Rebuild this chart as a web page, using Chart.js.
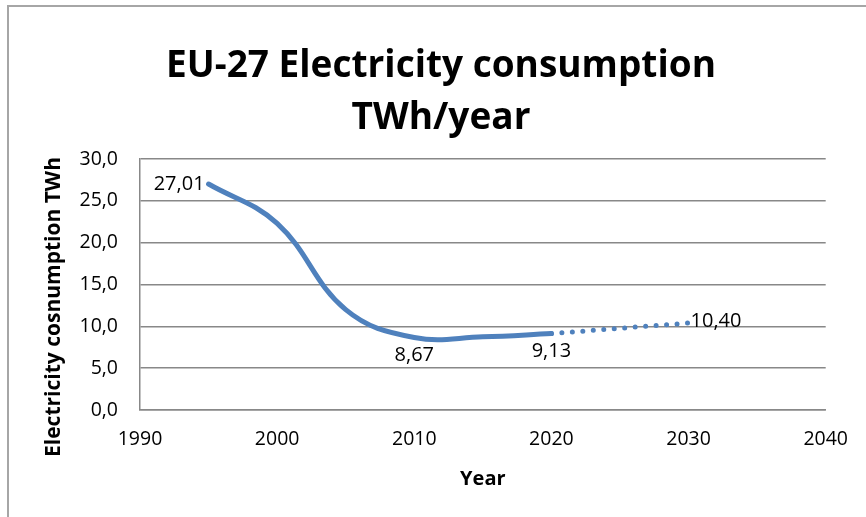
<!DOCTYPE html>
<html lang="en">
<head>
  <meta charset="UTF-8" />
  <title>EU-27 Electricity consumption</title>
  <style>
    body {
      margin: 0;
      background: #ffffff;
    }
    #wrap {
      position: relative;
      width: 866px;
      height: 517px;
      overflow: hidden;
    }
    #frame {
      position: absolute;
      left: 7px;
      top: 5px;
      width: 900px;
      height: 600px;
      border-left: 2px solid #a6a6a6;
      border-top: 2px solid #a6a6a6;
    }
    canvas {
      position: absolute;
      left: 0;
      top: 0;
    }
  </style>
</head>
<body>
  <div id="wrap">
    <div id="frame"></div>
    <canvas id="chart" width="866" height="517"></canvas>
  </div>

  <script src="https://cdn.jsdelivr.net/npm/chart.js"></script>
  <script>
    // measured series (solid) and projection (dotted)
    const years = [1995, 2000, 2005, 2010, 2015, 2020];
    const consumption = [27.01, 22.3, 12.0, 8.67, 8.75, 9.13];
    const projYears = [2020, 2030];
    const projValues = [9.13, 10.40];
    const xTicks = [1990, 2000, 2010, 2020, 2030, 2040];
    const yTicks = [0, 5, 10, 15, 20, 25, 30];

    const titleLines = ['EU-27 Electricity consumption', 'TWh/year'];
    const yTitle = 'Electricity cosnumption TWh';

    const blue = '#4f81bd';
    const grey = '#888888';
    const font = "'Open Sans', sans-serif";

    const comma = (v, d) => v.toFixed(d).replace('.', ',');

    // which points carry a value label, and where
    const labelled = [
      { ds: 0, i: 0, where: 'left' },
      { ds: 0, i: 3, where: 'below' },
      { ds: 0, i: 5, where: 'below' },
      { ds: 1, i: 1, where: 'right' }
    ];

    const valueLabels = {
      id: 'valueLabels',
      afterDatasetsDraw(chart) {
        const ctx = chart.ctx;
        ctx.save();
        ctx.font = '20px ' + font;
        ctx.fillStyle = '#000';
        labelled.forEach(l => {
          const pt = chart.getDatasetMeta(l.ds).data[l.i];
          const v = chart.data.datasets[l.ds].data[l.i].y;
          const txt = comma(v, 2);
          if (l.where === 'left') {
            ctx.textAlign = 'right'; ctx.textBaseline = 'middle';
            ctx.fillText(txt, pt.x - 4, pt.y);
          } else if (l.where === 'right') {
            ctx.textAlign = 'left'; ctx.textBaseline = 'middle';
            ctx.fillText(txt, pt.x + 2, pt.y - 2);
          } else {
            ctx.textAlign = 'center'; ctx.textBaseline = 'middle';
            ctx.fillText(txt, pt.x, pt.y + 18);
          }
        });
        ctx.restore();
      }
    };

    // chart title and the y-axis title, placed like the Excel original
    const headings = {
      id: 'headings',
      afterDraw(chart) {
        const ctx = chart.ctx;
        ctx.save();
        ctx.fillStyle = '#000';
        ctx.textAlign = 'center';
        ctx.textBaseline = 'alphabetic';
        ctx.font = 'bold 37px ' + font;
        ctx.fillText(titleLines[0], 441, 77);
        ctx.fillText(titleLines[1], 441, 129);

        ctx.font = 'bold 21px ' + font;
        ctx.textBaseline = 'middle';
        ctx.translate(54, 307);
        ctx.rotate(-Math.PI / 2);
        ctx.fillText(yTitle, 0, 0);
        ctx.restore();
      }
    };

    new Chart(document.getElementById('chart'), {
      type: 'line',
      data: {
        datasets: [
          {
            data: years.map((y, i) => ({ x: y, y: consumption[i] })),
            borderColor: blue,
            borderWidth: 5,
            tension: 0.4,
            pointRadius: 0,
            borderCapStyle: 'round'
          },
          {
            data: projYears.map((y, i) => ({ x: y, y: projValues[i] })),
            borderColor: blue,
            borderWidth: 5,
            borderDash: [0, 10.5],
            borderCapStyle: 'round',
            pointRadius: 0
          }
        ]
      },
      options: {
        responsive: false,
        animation: false,
        layout: { padding: { left: 0, right: 37, top: 159, bottom: 0 } },
        plugins: {
          legend: { display: false },
          tooltip: { enabled: false },
          title: { display: false }
        },
        scales: {
          x: {
            type: 'linear',
            min: xTicks[0],
            max: xTicks[xTicks.length - 1],
            afterBuildTicks: s => { s.ticks = xTicks.map(v => ({ value: v })); },
            afterFit: s => { s.height = 107; },
            grid: { display: false, drawTicks: false },
            border: { color: grey, width: 1.5 },
            ticks: {
              color: '#000',
              padding: 18,
              font: { family: font, size: 19.5 },
              callback: v => String(v)
            },
            title: {
              display: true,
              text: 'Year',
              color: '#000',
              font: { family: font, size: 20, weight: 'bold' },
              padding: { top: 0, bottom: 26 }
            }
          },
          y: {
            min: yTicks[0],
            max: yTicks[yTicks.length - 1],
            afterBuildTicks: s => { s.ticks = yTicks.map(v => ({ value: v })); },
            afterFit: s => { s.width = 140; },
            grid: { color: grey, lineWidth: 1.5, drawTicks: false },
            border: { color: grey, width: 1.5 },
            ticks: {
              color: '#000',
              padding: 22,
              font: { family: font, size: 19.5 },
              callback: v => comma(v, 1)
            }
          }
        }
      },
      plugins: [valueLabels, headings]
    });
  </script>
</body>
</html>
